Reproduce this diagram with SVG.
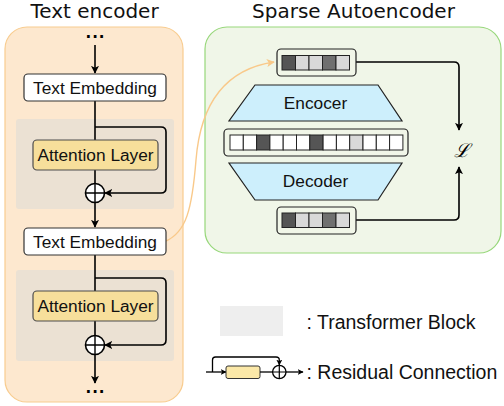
<svg xmlns="http://www.w3.org/2000/svg" width="504" height="406" viewBox="0 0 504 406">
<defs>
<marker id="ah" viewBox="0 0 10 10" refX="9" refY="5" markerWidth="8" markerHeight="8" markerUnits="userSpaceOnUse" orient="auto">
<path d="M0,0 L10,5 L0,10 L2.5,5 Z" fill="#000"/>
</marker>
<marker id="ahs" viewBox="0 0 10 10" refX="9" refY="5" markerWidth="6" markerHeight="6" markerUnits="userSpaceOnUse" orient="auto">
<path d="M0,0 L10,5 L0,10 L2.5,5 Z" fill="#000"/>
</marker>
<marker id="aho" viewBox="0 0 10 10" refX="9" refY="5" markerWidth="8" markerHeight="8" markerUnits="userSpaceOnUse" orient="auto">
<path d="M0,0 L10,5 L0,10 L2.5,5 Z" fill="#f9c98a"/>
</marker>
</defs>
<style>
.title{font-family:"DejaVu Sans",sans-serif;font-size:20px;fill:#111;text-anchor:middle}
.lbl{font-family:"Liberation Sans",Arial,sans-serif;font-size:17.3px;fill:#111;text-anchor:middle}
.leg{font-family:"Liberation Sans",Arial,sans-serif;font-size:19.5px;fill:#111}
.dots{font-family:"DejaVu Sans",sans-serif;font-size:15px;font-weight:bold;fill:#000;text-anchor:middle;letter-spacing:1px}
.box{fill:#fff;stroke:#333;stroke-width:1.2}
.att{fill:#f7df9b;stroke:#4d4d4d;stroke-width:1.2}
.blk{fill:#ebe1d3}
.ln{fill:none;stroke:#000;stroke-width:1.6}
.vec{fill:#f1f6e8;stroke:#222;stroke-width:1.2}
.cell{stroke:#222;stroke-width:1}
.trap{fill:#cdeffc;stroke:#222;stroke-width:1.2}
.plus{fill:#fff;stroke:#000;stroke-width:1.6}
</style>

<text class="title" x="94.5" y="17.5">Text encoder</text>
<text class="title" x="353.5" y="17.5">Sparse Autoencoder</text>

<g id="text-encoder-panel">
<rect x="5" y="27" width="178" height="375" rx="22" fill="#fde8cf" stroke="#f8cc8f" stroke-width="1.2"/>
</g>
<g id="sae-panel">
<rect x="205" y="27" width="296" height="226" rx="22" fill="#f0f6e8" stroke="#97d77a" stroke-width="1.2"/>
</g>

<g id="block1"><rect class="blk" x="16" y="119" width="158" height="90" rx="3"/></g>
<g id="block2"><rect class="blk" x="16" y="270" width="158" height="91" rx="3"/></g>

<g id="connectors">
<line class="ln" x1="95" y1="45" x2="95" y2="73" marker-end="url(#ah)"/>
<line class="ln" x1="95" y1="101" x2="95" y2="140"/>
<path class="ln" d="M95,127 H161 Q166,127 166,132 V188 Q166,193 161,193 H105" marker-end="url(#ah)"/>
<line class="ln" x1="95" y1="170" x2="95" y2="184"/>
<line class="ln" x1="95" y1="202" x2="95" y2="227" marker-end="url(#ah)"/>
<line class="ln" x1="95" y1="255" x2="95" y2="291"/>
<path class="ln" d="M95,278 H161 Q166,278 166,283 V340 Q166,345 161,345 H105" marker-end="url(#ah)"/>
<line class="ln" x1="95" y1="321" x2="95" y2="336"/>
<line class="ln" x1="95" y1="354" x2="95" y2="383" marker-end="url(#ah)"/>
<path d="M166,241 C186,232 192,210 196,160 C200,110 220,70 274,62" fill="none" stroke="#f9c98a" stroke-width="1.4" marker-end="url(#aho)"/>
<path class="ln" d="M356,62 H454 Q459,62 459,67 V130" marker-end="url(#ah)"/>
<path class="ln" d="M356,220 H454 Q459,220 459,215 V167" marker-end="url(#ah)"/>
</g>

<g id="dots-top"><text class="dots" x="95.5" y="38">...</text></g>
<g id="dots-bottom"><text class="dots" x="95.5" y="392.5">...</text></g>

<g id="text-embedding-1">
<rect class="box" x="24" y="74" width="142" height="27" rx="4"/>
<text class="lbl" x="95" y="93.5">Text Embedding</text>
</g>
<g id="attention-1">
<rect class="att" x="33" y="140" width="125" height="30" rx="4"/>
<text class="lbl" x="95.5" y="161">Attention Layer</text>
</g>
<g id="add-1">
<circle class="plus" cx="95" cy="193" r="9.5"/>
<path d="M85.5,193 H104.5 M95,183.5 V202.5" stroke="#000" stroke-width="1.4"/>
</g>
<g id="text-embedding-2">
<rect class="box" x="24" y="228" width="142" height="27" rx="4"/>
<text class="lbl" x="95" y="247.5">Text Embedding</text>
</g>
<g id="attention-2">
<rect class="att" x="33" y="291" width="125" height="30" rx="4"/>
<text class="lbl" x="95.5" y="312">Attention Layer</text>
</g>
<g id="add-2">
<circle class="plus" cx="95" cy="345" r="9.5"/>
<path d="M85.5,345 H104.5 M95,335.5 V354.5" stroke="#000" stroke-width="1.4"/>
</g>

<g id="input-vector">
<rect class="vec" x="277" y="49" width="79" height="27" rx="4"/>
<rect class="cell" x="282" y="55.5" width="13.5" height="14.5" fill="#555"/>
<rect class="cell" x="295.5" y="55.5" width="13.5" height="14.5" fill="#d9d9d9"/>
<rect class="cell" x="309" y="55.5" width="13.5" height="14.5" fill="#d9d9d9"/>
<rect class="cell" x="322.5" y="55.5" width="13.5" height="14.5" fill="#707070"/>
<rect class="cell" x="336" y="55.5" width="13.5" height="14.5" fill="#d9d9d9"/>
</g>

<g id="encoder">
<polygon class="trap" points="255,85 378,85 402,121 229,121"/>
<text class="lbl" x="315.5" y="109">Encocer</text>
</g>

<g id="latent-vector">
<rect class="vec" x="224" y="129" width="184" height="27" rx="4"/>
<rect class="cell" x="230" y="135" width="13.3" height="15" fill="#fff"/>
<rect class="cell" x="243.3" y="135" width="13.3" height="15" fill="#fff"/>
<rect class="cell" x="256.6" y="135" width="13.3" height="15" fill="#555"/>
<rect class="cell" x="269.9" y="135" width="13.3" height="15" fill="#fff"/>
<rect class="cell" x="283.2" y="135" width="13.3" height="15" fill="#fff"/>
<rect class="cell" x="296.5" y="135" width="13.3" height="15" fill="#fff"/>
<rect class="cell" x="309.8" y="135" width="13.3" height="15" fill="#555"/>
<rect class="cell" x="323.1" y="135" width="13.3" height="15" fill="#fff"/>
<rect class="cell" x="336.4" y="135" width="13.3" height="15" fill="#fff"/>
<rect class="cell" x="349.7" y="135" width="13.3" height="15" fill="#d9d9d9"/>
<rect class="cell" x="363" y="135" width="13.3" height="15" fill="#fff"/>
<rect class="cell" x="376.3" y="135" width="13.3" height="15" fill="#fff"/>
<rect class="cell" x="389.6" y="135" width="13.3" height="15" fill="#fff"/>
</g>

<g id="decoder">
<polygon class="trap" points="229,163 402,163 378,200 255,200"/>
<text class="lbl" x="315.5" y="187">Decoder</text>
</g>

<g id="output-vector">
<rect class="vec" x="277" y="207" width="79" height="27" rx="4"/>
<rect class="cell" x="282" y="213" width="13.5" height="14.5" fill="#555"/>
<rect class="cell" x="295.5" y="213" width="13.5" height="14.5" fill="#d9d9d9"/>
<rect class="cell" x="309" y="213" width="13.5" height="14.5" fill="#d9d9d9"/>
<rect class="cell" x="322.5" y="213" width="13.5" height="14.5" fill="#707070"/>
<rect class="cell" x="336" y="213" width="13.5" height="14.5" fill="#d9d9d9"/>
</g>

<g id="loss">
<text x="461.5" y="157" font-family="DejaVu Serif,serif" font-style="italic" font-size="19" text-anchor="middle" fill="#000">ℒ</text>
</g>

<g id="legend-block">
<rect x="220" y="306" width="63" height="30" fill="#eeeeee"/>
<text class="leg" x="306.5" y="328.5">: Transformer Block</text>
</g>
<g id="legend-residual">
<line x1="206" y1="372" x2="226" y2="372" stroke="#000" stroke-width="1.3" marker-end="url(#ahs)"/>
<path d="M212.5,372 V360 Q212.5,357 215.5,357 H276 Q279.3,357 279.3,360 V365" fill="none" stroke="#000" stroke-width="1.3" marker-end="url(#ahs)"/>
<rect x="226" y="366" width="34" height="12.5" rx="2" fill="#fbe8a8" stroke="#333" stroke-width="1"/>
<line x1="260" y1="372" x2="272.6" y2="372" stroke="#000" stroke-width="1.3"/>
<circle cx="279.3" cy="372" r="6.7" fill="#fff" stroke="#000" stroke-width="1.3"/>
<path d="M272.6,372 H286 M279.3,365.3 V378.7" stroke="#000" stroke-width="1.2"/>
<line x1="286" y1="372" x2="303" y2="372" stroke="#000" stroke-width="1.3" marker-end="url(#ahs)"/>
<text class="leg" x="306.5" y="378.5">: Residual Connection</text>
</g>
</svg>
